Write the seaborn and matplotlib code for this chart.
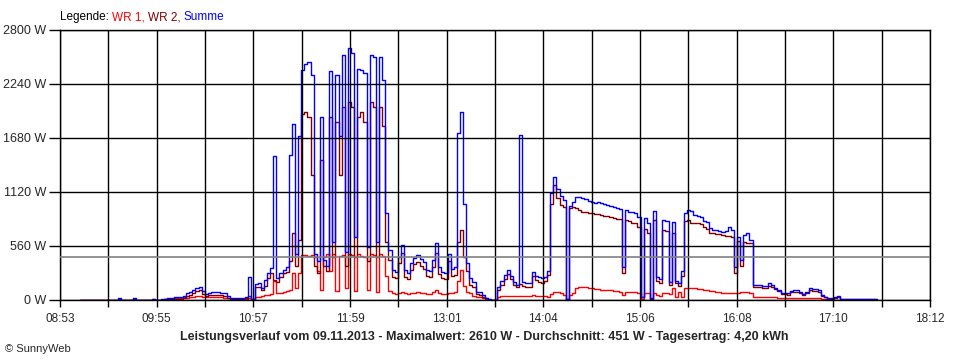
import numpy as np
import pandas as pd
import seaborn as sns
import matplotlib.pyplot as plt

nan = np.nan

# Messwerte alle 2 Minuten ab 09:00 (Watt)
summe = [
    nan, nan, nan, 5, 5, 5, 5, 5, 5, 5,                              # 09:00
    5, 5, 5, 5, 5, 20, 5, 5, 5, 5,                                   # 09:20
    20, 5, 5, 5, 5, 5, 15, 5, 5, 10,                                 # 09:40
    15, 20, 25, 30, 30, 30, 45, 70, 80, 100,                         # 10:00
    125, 140, 95, 65, 75, 80, 80, 78, 75, 68,                        # 10:20
    45, 25, 22, 20, 20, 20, 35, 240, 10, 170,                        # 10:40
    180, 121, 207, 277, 328, 1490, 230, 277, 311, 346,               # 11:00
    1500, 1830, 480, 1700, 2390, 2450, 2470, 2330, 480, 400,         # 11:20
    1900, 420, 350, 2370, 600, 2330, 1700, 2540, 500, 2610,          # 11:40
    2560, 650, 2400, 2390, 2350, 550, 2540, 2520, 600, 2520,         # 12:00
    2280, 900, 520, 311, 290, 450, 570, 311, 285, 380,               # 12:20
    440, 470, 430, 395, 310, 300, 420, 588, 340, 290,                # 12:40
    277, 480, 320, 340, 1730, 1950, 1000, 380, 230, 190,             # 13:00
    86, 80, 52, 25, 10, 5, 5, 130, 200, 260,                         # 13:20
    311, 250, 190, 160, 1710, 190, 175, 180, 294, 250,               # 13:40
    240, 230, 240, 300, 1106, 1280, 1150, 1080, 1040, 10,            # 14:00
    980, 1020, 1070, 1070, 1055, 1045, 1030, 1015, 1005, 1015,       # 14:20
    1005, 998, 990, 980, 967, 955, 945, 346, 930, 915,               # 14:40
    916, 899, 864, 35, 847, 795, 20, 920, 240, 220,                  # 15:00
    830, 820, 190, 810, 200, 180, 300, 899, 933, 920,                # 15:20
    881, 875, 864, 820, 806, 743, 726, 726, 720, 710,                # 15:40
    720, 760, 726, 346, 657, 415, 674, 690, 622, 155,                # 16:00
    155, 155, 145, 145, 180, 160, 125, 105, 70, 69,                  # 16:20
    69, 97, 104, 104, 86, 62, 86, 121, 114, 110,                     # 16:40
    104, 52, 35, 17, 17, 28, 40, 10, 10, 10,                         # 17:00
    10, 10, 10, 10, 15, 10, 10, 10, 15, 10,                          # 17:20
]

wr1 = [
    nan, nan, nan, 3, 3, 3, 3, 3, 3, 3,
    3, 3, 3, 3, 3, 3, 3, 3, 3, 3,
    3, 3, 3, 3, 3, 3, 3, 3, 3, 5,
    8, 10, 15, 20, 25, 25, 28, 25, 28, 30,
    38, 40, 35, 28, 28, 28, 28, 28, 26, 25,
    22, 15, 12, 10, 10, 10, 15, 20, 10, 30,
    35, 40, 50, 55, 62, 200, 69, 75, 80, 90,
    104, 277, 124, 277, 467, 467, 460, 470, 450, 300,
    104, 450, 480, 300, 480, 90, 460, 470, 120, 480,
    470, 90, 480, 460, 450, 100, 480, 470, 80, 480,
    460, 250, 90, 70, 65, 70, 80, 70, 65, 70,
    75, 80, 75, 70, 65, 65, 80, 100, 75, 60,
    60, 70, 75, 85, 200, 311, 150, 86, 70, 40,
    35, 30, 20, 10, 5, 3, 3, 30, 40, 45,
    45, 45, 40, 40, 45, 40, 40, 45, 50, 45,
    45, 45, 40, 35, 60, 86, 80, 70, 55, 5,
    52, 69, 121, 138, 138, 130, 125, 121, 115, 110,
    104, 104, 104, 100, 95, 90, 86, 52, 86, 86,
    86, 80, 75, 10, 70, 70, 10, 70, 50, 40,
    70, 70, 60, 121, 35, 86, 35, 121, 121, 121,
    121, 115, 110, 104, 100, 95, 90, 86, 80, 75,
    70, 70, 70, 70, 75, 80, 86, 80, 70, 35,
    35, 35, 30, 28, 28, 28, 28, 20, 17, 17,
    17, 17, 17, 17, 17, 17, 17, 17, 17, 17,
    17, 12, 8, 5, 5, 5, 5, 3, 3, 3,
    3, 3, 3, 3, 3, 3, 3, 3, 3, 3,
]

wr2 = [
    nan, nan, nan, 3, 3, 3, 3, 3, 3, 3,
    3, 3, 3, 3, 3, 15, 3, 3, 3, 3,
    15, 3, 3, 3, 3, 3, 10, 3, 3, 5,
    8, 10, 12, 15, 15, 15, 20, 45, 55, 70,
    90, 100, 60, 45, 50, 52, 52, 50, 50, 45,
    25, 12, 10, 10, 10, 10, 20, 40, 5, 135,
    140, 100, 150, 230, 280, 210, 190, 240, 277, 290,
    400, 700, 350, 620, 1930, 1950, 1900, 1300, 350, 280,
    1450, 350, 300, 1900, 450, 1850, 1300, 2000, 350, 2050,
    2000, 450, 1900, 1950, 1850, 400, 2050, 2000, 450, 2000,
    1800, 600, 420, 240, 225, 380, 490, 240, 220, 310,
    370, 390, 355, 325, 245, 235, 340, 490, 265, 230,
    215, 400, 250, 260, 600, 726, 450, 300, 160, 140,
    60, 55, 35, 18, 5, 3, 3, 100, 160, 220,
    270, 220, 160, 130, 170, 150, 140, 140, 250, 210,
    190, 180, 200, 260, 1000, 1190, 1060, 990, 960, 10,
    950, 968, 950, 933, 916, 909, 899, 899, 892, 890,
    880, 875, 870, 865, 850, 840, 835, 280, 830, 820,
    800, 795, 760, 30, 740, 700, 15, 830, 200, 180,
    726, 715, 160, 700, 173, 150, 250, 820, 830, 800,
    800, 795, 790, 760, 740, 700, 690, 685, 680, 670,
    665, 660, 650, 280, 610, 350, 600, 590, 588, 130,
    130, 130, 125, 125, 145, 135, 110, 90, 60, 59,
    55, 80, 86, 86, 70, 50, 70, 100, 95, 95,
    85, 40, 28, 12, 12, 22, 32, 7, 7, 7,
    7, 7, 7, 7, 7, 7, 7, 7, 7, 7,
]

zeit_labels = ["08:53", "09:55", "10:57", "11:59", "13:01",
               "14:04", "15:06", "16:08", "17:10", "18:12"]
y_ticks = [0, 560, 1120, 1680, 2240, 2800]
durchschnitt = 451

zeit = pd.date_range("2013-11-09 09:00", periods=len(summe), freq="2min")
df = pd.DataFrame({
    "minute": zeit.hour * 60 + zeit.minute,
    "WR 1": wr1,
    "WR 2": wr2,
    "Summe": summe,
})

sns.set_style("white")
plt.rcParams["font.family"] = ["Liberation Sans", "DejaVu Sans"]

fig = plt.figure(figsize=(9.6, 3.6), dpi=100)
ax = fig.add_axes([60 / 960, 60 / 360, 870 / 960, 270 / 360])

farben = {"WR 1": "#ff0000", "WR 2": "#800000", "Summe": "#0000ff"}
for spalte, farbe in farben.items():
    sns.lineplot(data=df, x="minute", y=spalte, color=farbe, lw=1,
                 drawstyle="steps-post", estimator=None, legend=False, ax=ax)

ax.axhline(durchschnitt, color="#808080", lw=1.2, zorder=3)

# x-Achse: 08:53 bis 18:12, Gitter alle halbe Beschriftung
start, ende = 8 * 60 + 53, 18 * 60 + 12
xt = np.linspace(start, ende, 2 * len(zeit_labels) - 1)
ax.set_xlim(start, ende)
ax.set_xticks(xt)
ax.set_xticklabels([zeit_labels[i // 2] if i % 2 == 0 else "" for i in range(len(xt))])
ax.set_ylim(0, 2800)
ax.set_yticks(y_ticks)
ax.set_yticklabels([f"{v} W" for v in y_ticks])
ax.set_xlabel("")
ax.set_ylabel("")

ax.set_axisbelow(False)
ax.grid(True, color="black", lw=1)
ax.tick_params(axis="x", bottom=True, length=5, width=1, color="black",
               labelsize=8.5, pad=4)
ax.tick_params(axis="y", left=True, length=8, width=1, color="black",
               labelsize=9, pad=2)
for s in ax.spines.values():
    s.set_color("black")
    s.set_linewidth(1)

fig.text(484 / 960, 1 - 337 / 360,
         "Leistungsverlauf vom 09.11.2013 - Maximalwert: 2610 W - "
         "Durchschnitt: 451 W - Tagesertrag: 4,20 kWh",
         ha="center", va="center", fontsize=9, fontweight="bold")
fig.text(5 / 960, 1 - 349 / 360, "© SunnyWeb", ha="left", va="center", fontsize=8)

# Legende als farbiger Text
renderer = fig.canvas.get_renderer()
x = 60
for teil, farbe in [("Legende: ", "black"), ("WR 1, ", farben["WR 1"]),
                    ("WR 2, ", farben["WR 2"]), ("Summe", farben["Summe"])]:
    t = fig.text(x / 960, 1 - 17 / 360, teil, color=farbe, ha="left",
                 va="center", fontsize=8.5)
    x += t.get_window_extent(renderer).width

fig.savefig("out.png", dpi=100, facecolor="white")
